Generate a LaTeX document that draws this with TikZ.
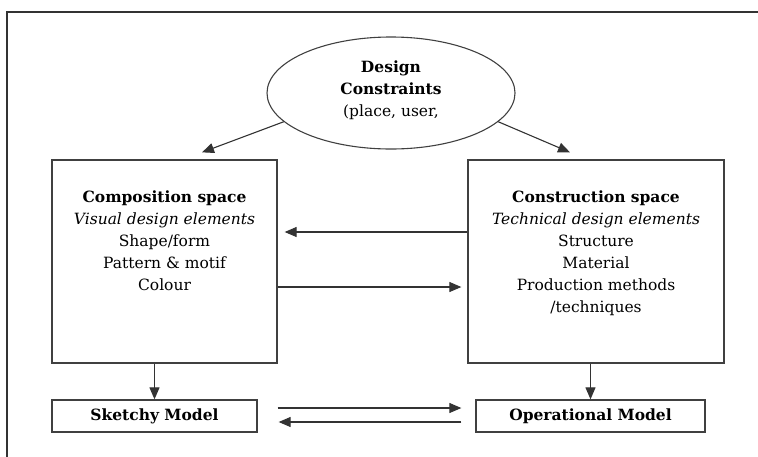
\documentclass[tikz,border=0pt]{standalone}
\usepackage{fontspec}
\setmainfont{DejaVu Serif}
\usepackage{tikz}
\usetikzlibrary{arrows.meta,shapes.geometric}
\tikzset{>/.tip={Triangle[length=12pt,width=10pt]},
  every picture/.style={x=1pt,y=-1pt},
  line/.style={draw=black!80,line width=1.1pt},
  space/.style={draw=black!75,line width=1.3pt,minimum height=203pt},
  model/.style={draw=black!75,line width=1.3pt,minimum height=32pt,inner sep=0pt,font=\fontsize{15.5}{22}\selectfont\bfseries},
  label/.style={align=center,inner sep=0pt,anchor=north,font=\fontsize{15.5}{22}\selectfont}}

\begin{document}
\begin{tikzpicture}
\useasboundingbox (0,0) rectangle (758,456);
\clip (0,0) rectangle (758,456);
\draw[line width=1.1pt,draw=black!80] (7,12) rectangle (780,480);

\node[ellipse,draw=black!75,line width=1.1pt,minimum width=248pt,minimum height=112pt,inner sep=0pt] (dc) at (391,93) {};
\node[label] (dctext) at (391,61) {\textbf{Design}\\ \textbf{Constraints}\\ (place, user,};

\node[space,minimum width=225pt] (comp) at (164.5,261.5) {};
\node[space,minimum width=256pt] (cons) at (596,261.5) {};
\node[label] (comptext) at (164.5,191) {\textbf{Composition space}\\ \textit{Visual design elements}\\ Shape/form\\ Pattern \& motif\\ Colour};
\node[label] (constext) at (596,191) {\textbf{Construction space}\\ \textit{Technical design elements}\\ Structure\\ Material\\ Production methods\\ /techniques};

\node[model,minimum width=205pt] (sketchy) at (154.5,416) {Sketchy Model};
\node[model,minimum width=229pt] (oper) at (590.5,416) {Operational Model};

\draw[line,->] (dc.195) to ([xshift=37.5pt,yshift=7pt]comp.north);
\draw[line,->] (dc.345) to ([xshift=-26pt,yshift=7pt]cons.north);

\draw[line,->] ([yshift=29.5pt]cons.west) to ([xshift=7pt,yshift=29.5pt]comp.east);
\draw[line,->] ([yshift=-25.5pt]comp.east) to ([xshift=-6pt,yshift=-25.5pt]cons.west);

\draw[line,->] (sketchy.north |- comp.south) to (sketchy.north);
\draw[line,->] (oper.north |- cons.south) to (oper.north);

\draw[line,->] ([xshift=20pt,yshift=8pt]sketchy.east) to ([xshift=-14pt,yshift=8pt]oper.west);
\draw[line,->] ([xshift=-14pt,yshift=-6pt]oper.west) to ([xshift=21pt,yshift=-6pt]sketchy.east);
\end{tikzpicture}
\end{document}
